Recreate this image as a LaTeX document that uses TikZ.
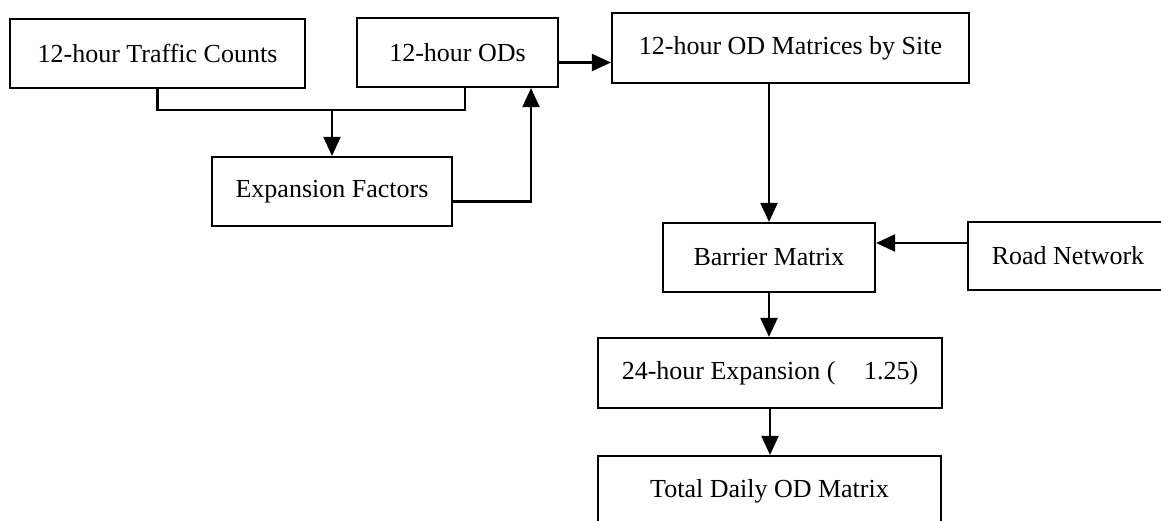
\documentclass[tikz,border=0pt]{standalone}
\usepackage{fontspec}
\setmainfont{Liberation Serif}
\usepackage{tikz}
\usetikzlibrary{arrows.meta}

\begin{document}
\begin{tikzpicture}[x=1pt,y=-1pt,
  box/.style={draw,line width=2.2pt,inner sep=0pt,font=\fontsize{26}{30}\selectfont},
  arr/.style={line width=2.2pt,-{Triangle[length=19pt,width=17pt]}},
  link/.style={line width=2.2pt}]
\useasboundingbox (0,0) rectangle (1161,520);

% inputs
\node[box,minimum width=295pt,minimum height=69pt] (counts) at (157.5,53.5) {12-hour Traffic Counts};
\node[box,minimum width=201pt,minimum height=69pt] (ods) at (457.5,52.5) {12-hour ODs};
\node[box,minimum width=240pt,minimum height=69pt] (factors) at (332,191.5) {Expansion Factors};

% matrices
\node[box,minimum width=357pt,minimum height=70pt] (bysite) at (790.5,48) {12-hour OD Matrices by Site};
\node[box,minimum width=212pt,minimum height=69pt] (barrier) at (769,257.5) {Barrier Matrix};
\node[box,minimum width=200pt,minimum height=68pt] (network) at (1068,256) {Road Network};
\node[box,minimum width=344pt,minimum height=70pt] (daily24) at (770,373) {24-hour Expansion (\hspace{1.1em}1.25)};
\node[box,minimum width=343pt,minimum height=70pt] (total) at (769.5,491) {Total Daily OD Matrix};

% counts and ODs give the factors
\coordinate (join) at (332,110);
\draw[link] (counts.south) |- (join) -| ([xshift=7.5pt]ods.south);
\draw[arr] (join) -- (factors.north);
\draw[arr] ([yshift=-10pt]factors.east) -| ([xshift=73.5pt]ods.south);

% main chain
\draw[arr] ([yshift=-10pt]ods.east) -- ([yshift=-10pt]ods.east -| bysite.west);
\draw[arr] (bysite.south -| barrier.north) -- (barrier.north);
\draw[arr] ([yshift=13pt]network.west) -- ([yshift=13pt]network.west -| barrier.east);
\draw[arr] (barrier.south) -- (barrier.south |- daily24.north);
\draw[arr] (daily24.south) -- (daily24.south |- total.north);

\end{tikzpicture}
\end{document}
